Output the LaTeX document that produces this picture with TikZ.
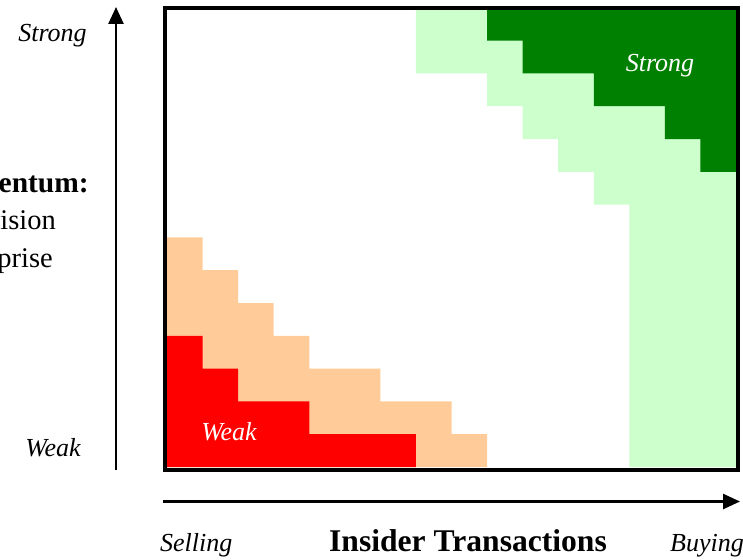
\documentclass[tikz,border=0pt]{standalone}
\usepackage{fontspec}
\setmainfont{Liberation Serif}
\usetikzlibrary{arrows.meta}
\definecolor{peach}{HTML}{FFCC99}
\definecolor{lightgreen}{HTML}{CCFFCC}
\definecolor{darkgreen}{HTML}{008000}
\definecolor{brightred}{HTML}{FF0000}
\tikzset{
  axisarrow/.style={line width=2.5pt, -{Triangle[length=17pt,width=15pt]}},
  frameline/.style={line width=4pt},
  lab/.style={inner sep=0pt, font=\fontsize{26}{30}\selectfont\itshape},
  whitelab/.style={lab, text=white},
  sidelab/.style={inner sep=0pt, anchor=base east, font=\fontsize{28.5}{34}\selectfont},
  titlelab/.style={inner sep=0pt, anchor=base, font=\fontsize{31.6}{36}\selectfont\bfseries},
}
\begin{document}
\begin{tikzpicture}[x=1pt,y=-1pt]
\useasboundingbox (0,0) rectangle (743,559);
% grid regions
\begin{scope}[shift={(167,467)}, x=35.5625pt, y=32.8pt]
  \fill[peach] (0,0) -- (0,7) -- (1,7) -- (1,6) -- (2,6) -- (2,5) -- (3,5) -- (3,4) -- (4,4) -- (4,3) -- (6,3) -- (6,2) -- (8,2) -- (8,1) -- (9,1) -- (9,0) -- cycle;
  \fill[brightred] (0,0) -- (0,4) -- (1,4) -- (1,3) -- (2,3) -- (2,2) -- (4,2) -- (4,1) -- (7,1) -- (7,0) -- cycle;
  \fill[lightgreen] (7,14) -- (7,12) -- (9,12) -- (9,11) -- (10,11) -- (10,10) -- (11,10) -- (11,9) -- (12,9) -- (12,8) -- (13,8) -- (13,0) -- (16,0) -- (16,14) -- cycle;
  \fill[darkgreen] (9,14) -- (9,13) -- (10,13) -- (10,12) -- (12,12) -- (12,11) -- (14,11) -- (14,10) -- (15,10) -- (15,9) -- (16,9) -- (16,14) -- cycle;
\end{scope}
% frame
\draw[frameline] (165,8) rectangle (738,469.5);
% axes
\coordinate (vbot) at (116,470);
\coordinate (vtop) at (116,7);
\coordinate (hleft) at (163,501.5);
\coordinate (hright) at (740,501.5);
\draw[axisarrow] (vbot) -- (vtop);
\draw[axisarrow] (hleft) -- (hright);
% labels
\node[lab, anchor=base] (ystrong) at (52.5,42) {Strong};
\node[lab, anchor=base] (yweak) at (53,456) {Weak};
\node[whitelab, anchor=base] (rweak) at (229,440.5) {Weak};
\node[whitelab, anchor=base] (gstrong) at (660,72) {Strong};
\node[lab, anchor=base west] (xsell) at (160,551) {Selling};
\node[lab, anchor=base west] (xbuy) at (670,551) {Buying};
\node[titlelab] (xtitle) at (468,551) {Insider Transactions};
\node[sidelab, font=\fontsize{29.5}{34}\selectfont\bfseries] (ym) at (89,192) {Momentum:};
\node[sidelab] (yr) at (56,229) {Revision};
\node[sidelab] (ys) at (53,267) {Surprise};
\end{tikzpicture}
\end{document}
